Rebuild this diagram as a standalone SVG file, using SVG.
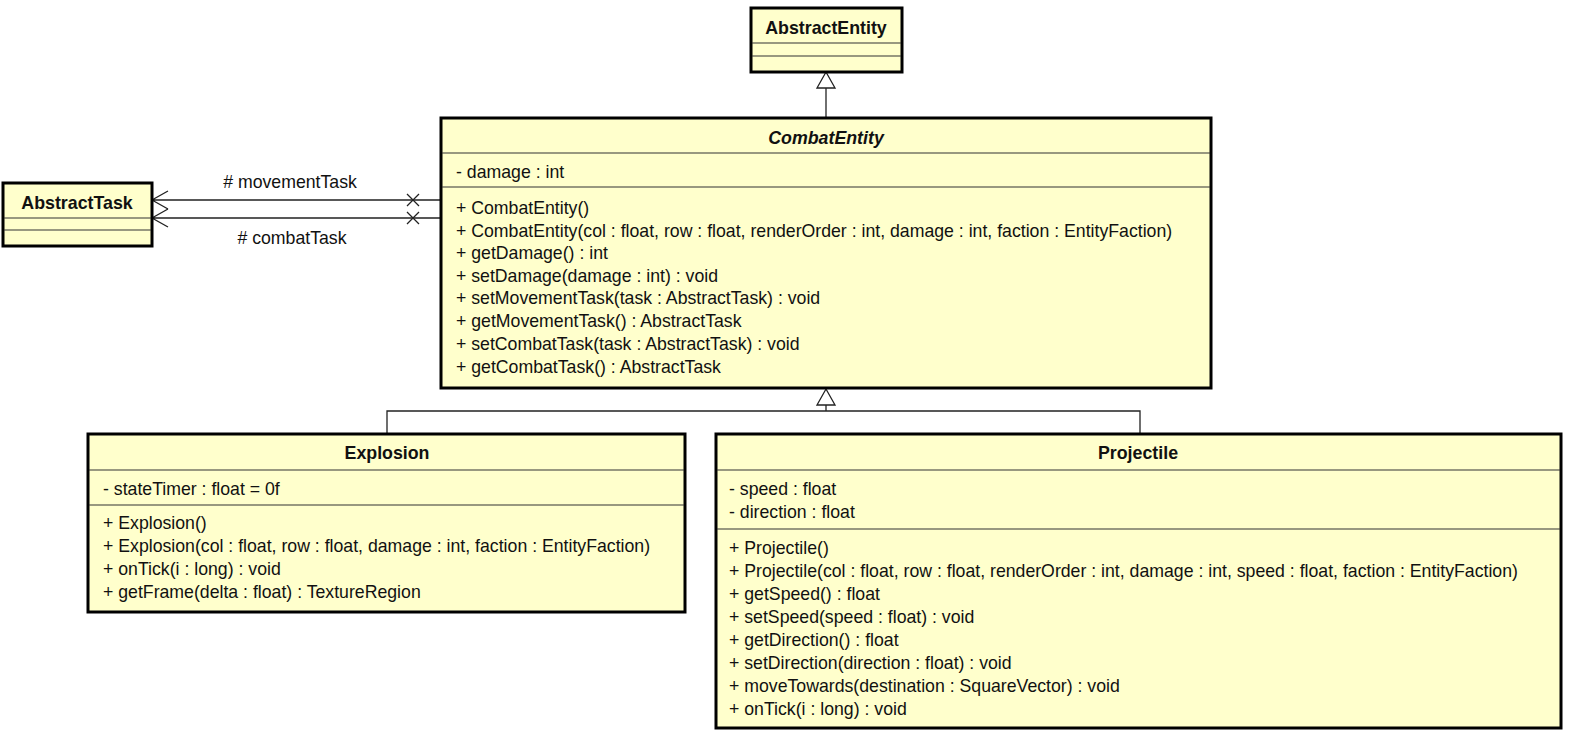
<svg xmlns="http://www.w3.org/2000/svg" width="1574" height="737" viewBox="0 0 1574 737">
<style>
.box{fill:#FFFFCC;stroke:#000;stroke-width:3}
.sep{stroke:#333;stroke-width:1.2;fill:none}
.t{font-family:"Liberation Sans",Arial,sans-serif;font-size:17.7px;fill:#111}
.b{font-family:"Liberation Sans",Arial,sans-serif;font-size:17.8px;font-weight:bold;fill:#111;text-anchor:middle}
.ln{stroke:#222;stroke-width:1.3;fill:none}
.tri{fill:#fff;stroke:#222;stroke-width:1.3}
</style>
<rect width="1574" height="737" fill="#fff"/>
<g id="connectors">
  <path class="ln" d="M826,117 V88"/>
  <path class="tri" d="M826,72 L817,88 L835,88 Z"/>
  <path class="ln" d="M387,433 V411 H1140 V433 M826,411 V405"/>
  <path class="tri" d="M826,389 L817,405 L835,405 Z"/>
  <path class="ln" d="M152,200 H440 M168,191 L152,200 L168,209"/>
  <path class="ln" d="M152,218 H440 M168,209 L152,218 L168,227"/>
  <path class="ln" d="M407,194 L419,206 M419,194 L407,206"/>
  <path class="ln" d="M407,212 L419,224 M419,212 L407,224"/>
  <text class="t" x="290" y="188" text-anchor="middle"># movementTask</text>
  <text class="t" x="292" y="244" text-anchor="middle"># combatTask</text>
</g>
<g id="AbstractEntity">
  <rect class="box" x="751" y="8" width="151" height="64"/>
  <text class="b" x="826" y="34">AbstractEntity</text>
  <path class="sep" d="M752,43 H901 M752,56 H901"/>
</g>
<g id="AbstractTask">
  <rect class="box" x="3" y="183" width="149" height="63"/>
  <text class="b" x="77" y="209">AbstractTask</text>
  <path class="sep" d="M4,218 H151 M4,230 H151"/>
</g>
<g id="CombatEntity">
  <rect class="box" x="441" y="118" width="770" height="270"/>
  <text class="b" x="826" y="144" font-style="italic">CombatEntity</text>
  <path class="sep" d="M442,153 H1210 M442,187 H1210"/>
  <text class="t" x="456" y="178">- damage : int</text>
  <text class="t" x="456" y="214">+ CombatEntity()</text>
  <text class="t" x="456" y="237">+ CombatEntity(col : float, row : float, renderOrder : int, damage : int, faction : EntityFaction)</text>
  <text class="t" x="456" y="259">+ getDamage() : int</text>
  <text class="t" x="456" y="282">+ setDamage(damage : int) : void</text>
  <text class="t" x="456" y="304">+ setMovementTask(task : AbstractTask) : void</text>
  <text class="t" x="456" y="327">+ getMovementTask() : AbstractTask</text>
  <text class="t" x="456" y="350">+ setCombatTask(task : AbstractTask) : void</text>
  <text class="t" x="456" y="373">+ getCombatTask() : AbstractTask</text>
</g>
<g id="Explosion">
  <rect class="box" x="88" y="434" width="597" height="178"/>
  <text class="b" x="387" y="459">Explosion</text>
  <path class="sep" d="M89,470 H684 M89,505 H684"/>
  <text class="t" x="103" y="495">- stateTimer : float = 0f</text>
  <text class="t" x="103" y="529">+ Explosion()</text>
  <text class="t" x="103" y="552">+ Explosion(col : float, row : float, damage : int, faction : EntityFaction)</text>
  <text class="t" x="103" y="575">+ onTick(i : long) : void</text>
  <text class="t" x="103" y="598">+ getFrame(delta : float) : TextureRegion</text>
</g>
<g id="Projectile">
  <rect class="box" x="716" y="434" width="845" height="294"/>
  <text class="b" x="1138" y="459">Projectile</text>
  <path class="sep" d="M717,470 H1560 M717,529 H1560"/>
  <text class="t" x="729" y="495">- speed : float</text>
  <text class="t" x="729" y="518">- direction : float</text>
  <text class="t" x="729" y="554">+ Projectile()</text>
  <text class="t" x="729" y="577">+ Projectile(col : float, row : float, renderOrder : int, damage : int, speed : float, faction : EntityFaction)</text>
  <text class="t" x="729" y="600">+ getSpeed() : float</text>
  <text class="t" x="729" y="623">+ setSpeed(speed : float) : void</text>
  <text class="t" x="729" y="646">+ getDirection() : float</text>
  <text class="t" x="729" y="669">+ setDirection(direction : float) : void</text>
  <text class="t" x="729" y="692">+ moveTowards(destination : SquareVector) : void</text>
  <text class="t" x="729" y="715">+ onTick(i : long) : void</text>
</g>
</svg>
